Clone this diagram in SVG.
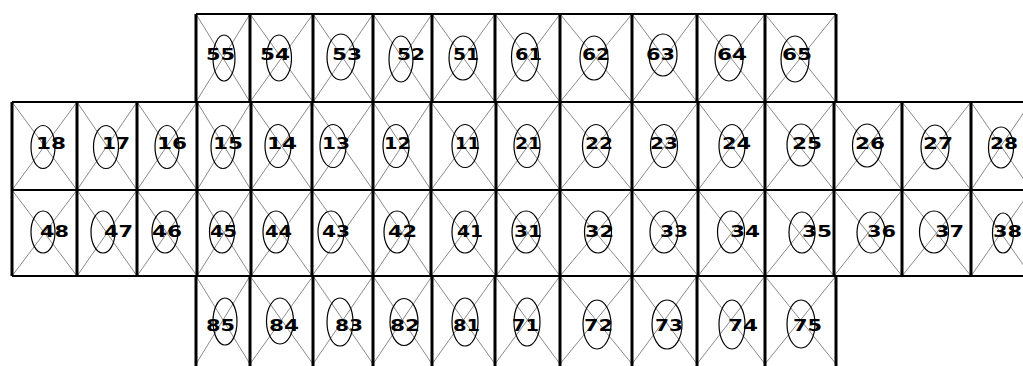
<svg xmlns="http://www.w3.org/2000/svg" width="1023" height="366" viewBox="0 0 1023 366">
<style>
.v{stroke:#000;stroke-width:3;fill:none}
.h{stroke:#000;stroke-width:2;fill:none}
.d{stroke:#8a8a8a;stroke-width:1;fill:none}
.e{stroke:#000;stroke-width:1.2;fill:none}
.t{font-family:"DejaVu Sans","Liberation Sans",sans-serif;font-weight:bold;font-size:16px;fill:#000}
</style>
<rect width="1023" height="366" fill="#fff"/>
<g id="diagonals">
<path class="d" d="M196,14L250,102M250,14L196,102M250,14L313,102M313,14L250,102M313,14L373,102M373,14L313,102M373,14L432,102M432,14L373,102M432,14L495,102M495,14L432,102M495,14L560,102M560,14L495,102M560,14L632,102M632,14L560,102M632,14L697,102M697,14L632,102M697,14L765,102M765,14L697,102M765,14L836,102M836,14L765,102"/>
<path class="d" d="M12,102L77,190M77,102L12,190M77,102L137,190M137,102L77,190M137,102L197,190M197,102L137,190M197,102L251,190M251,102L197,190M251,102L312,190M312,102L251,190M312,102L373,190M373,102L312,190M373,102L431,190M431,102L373,190M431,102L496,190M496,102L431,190M496,102L560,190M560,102L496,190M560,102L632,190M632,102L560,190M632,102L698,190M698,102L632,190M698,102L765,190M765,102L698,190M765,102L834,190M834,102L765,190M834,102L902,190M902,102L834,190M902,102L971,190M971,102L902,190M971,102L1031,190M1031,102L971,190"/>
<path class="d" d="M12,190L77,276M77,190L12,276M77,190L137,276M137,190L77,276M137,190L197,276M197,190L137,276M197,190L251,276M251,190L197,276M251,190L312,276M312,190L251,276M312,190L373,276M373,190L312,276M373,190L431,276M431,190L373,276M431,190L496,276M496,190L431,276M496,190L560,276M560,190L496,276M560,190L632,276M632,190L560,276M632,190L698,276M698,190L632,276M698,190L765,276M765,190L698,276M765,190L834,276M834,190L765,276M834,190L902,276M902,190L834,276M902,190L971,276M971,190L902,276M971,190L1031,276M1031,190L971,276"/>
<path class="d" d="M196,276L250,364M250,276L196,364M250,276L313,364M313,276L250,364M313,276L373,364M373,276L313,364M373,276L432,364M432,276L373,364M432,276L495,364M495,276L432,364M495,276L560,364M560,276L495,364M560,276L632,364M632,276L560,364M632,276L697,364M697,276L632,364M697,276L765,364M765,276L697,364M765,276L836,364M836,276L765,364"/>
</g>
<g id="grid">
<path class="h" d="M196,14H836M12,102H1023M12,190H1023M12,276H1023"/>
<path class="v" d="M196,14V102M250,14V102M313,14V102M373,14V102M432,14V102M495,14V102M560,14V102M632,14V102M697,14V102M765,14V102M836,14V102"/>
<path class="v" d="M12,102V276M77,102V276M137,102V276M197,102V276M251,102V276M312,102V276M373,102V276M431,102V276M496,102V276M560,102V276M632,102V276M698,102V276M765,102V276M834,102V276M902,102V276M971,102V276"/>
<path class="v" d="M196,276V366M250,276V366M313,276V366M373,276V366M432,276V366M495,276V366M560,276V366M632,276V366M697,276V366M765,276V366M836,276V366"/>
</g>
<g id="connectors"></g>
<g id="t55"><ellipse class="e" cx="224" cy="58" rx="11" ry="23"/><text class="t" x="206" y="60" textLength="29" lengthAdjust="spacingAndGlyphs">55</text></g>
<g id="t54"><ellipse class="e" cx="279" cy="58" rx="12.5" ry="23"/><text class="t" x="260" y="60" textLength="30" lengthAdjust="spacingAndGlyphs">54</text></g>
<g id="t53"><ellipse class="e" cx="341" cy="57" rx="14" ry="23"/><text class="t" x="332" y="60" textLength="30" lengthAdjust="spacingAndGlyphs">53</text></g>
<g id="t52"><ellipse class="e" cx="401" cy="59" rx="12" ry="23"/><text class="t" x="397" y="60" textLength="28" lengthAdjust="spacingAndGlyphs">52</text></g>
<g id="t51"><ellipse class="e" cx="463" cy="58" rx="14" ry="22"/><text class="t" x="453" y="60" textLength="26" lengthAdjust="spacingAndGlyphs">51</text></g>
<g id="t61"><ellipse class="e" cx="525" cy="57" rx="13.5" ry="24"/><text class="t" x="515" y="60" textLength="27" lengthAdjust="spacingAndGlyphs">61</text></g>
<g id="t62"><ellipse class="e" cx="594" cy="58" rx="14" ry="22"/><text class="t" x="582" y="60" textLength="28" lengthAdjust="spacingAndGlyphs">62</text></g>
<g id="t63"><ellipse class="e" cx="663" cy="55" rx="14" ry="21"/><text class="t" x="646" y="60" textLength="29" lengthAdjust="spacingAndGlyphs">63</text></g>
<g id="t64"><ellipse class="e" cx="729" cy="58" rx="14" ry="23"/><text class="t" x="717" y="60" textLength="30" lengthAdjust="spacingAndGlyphs">64</text></g>
<g id="t65"><ellipse class="e" cx="795" cy="59" rx="14" ry="23"/><text class="t" x="782" y="60" textLength="30" lengthAdjust="spacingAndGlyphs">65</text></g>
<g id="t18"><ellipse class="e" cx="43" cy="147" rx="12" ry="21.5"/><text class="t" x="36" y="149" textLength="30" lengthAdjust="spacingAndGlyphs">18</text></g>
<g id="t17"><ellipse class="e" cx="106" cy="147" rx="12.5" ry="21.5"/><text class="t" x="102" y="149" textLength="28" lengthAdjust="spacingAndGlyphs">17</text></g>
<g id="t16"><ellipse class="e" cx="167" cy="147" rx="12" ry="21.5"/><text class="t" x="157" y="149" textLength="30" lengthAdjust="spacingAndGlyphs">16</text></g>
<g id="t15"><ellipse class="e" cx="223" cy="147" rx="12" ry="21.5"/><text class="t" x="213" y="149" textLength="30" lengthAdjust="spacingAndGlyphs">15</text></g>
<g id="t14"><ellipse class="e" cx="278" cy="146" rx="13" ry="21.5"/><text class="t" x="267" y="149" textLength="30" lengthAdjust="spacingAndGlyphs">14</text></g>
<g id="t13"><ellipse class="e" cx="333" cy="146" rx="13" ry="21.5"/><text class="t" x="322" y="149" textLength="28" lengthAdjust="spacingAndGlyphs">13</text></g>
<g id="t12"><ellipse class="e" cx="396" cy="146" rx="13" ry="21.5"/><text class="t" x="384" y="149" textLength="27" lengthAdjust="spacingAndGlyphs">12</text></g>
<g id="t11"><ellipse class="e" cx="465" cy="146" rx="13" ry="21.5"/><text class="t" x="455" y="149" textLength="25" lengthAdjust="spacingAndGlyphs">11</text></g>
<g id="t21"><ellipse class="e" cx="527" cy="146" rx="13" ry="21.5"/><text class="t" x="515" y="149" textLength="26" lengthAdjust="spacingAndGlyphs">21</text></g>
<g id="t22"><ellipse class="e" cx="596" cy="146" rx="13.5" ry="21.5"/><text class="t" x="585" y="149" textLength="28" lengthAdjust="spacingAndGlyphs">22</text></g>
<g id="t23"><ellipse class="e" cx="664" cy="146" rx="13.5" ry="21.5"/><text class="t" x="650" y="149" textLength="28" lengthAdjust="spacingAndGlyphs">23</text></g>
<g id="t24"><ellipse class="e" cx="732" cy="146" rx="13" ry="21.5"/><text class="t" x="722" y="149" textLength="29" lengthAdjust="spacingAndGlyphs">24</text></g>
<g id="t25"><ellipse class="e" cx="801" cy="145" rx="14" ry="21"/><text class="t" x="792" y="149" textLength="30" lengthAdjust="spacingAndGlyphs">25</text></g>
<g id="t26"><ellipse class="e" cx="867" cy="145.5" rx="14.5" ry="21.5"/><text class="t" x="855" y="149" textLength="30" lengthAdjust="spacingAndGlyphs">26</text></g>
<g id="t27"><ellipse class="e" cx="935" cy="147" rx="14" ry="22"/><text class="t" x="923" y="149" textLength="30" lengthAdjust="spacingAndGlyphs">27</text></g>
<g id="t28"><ellipse class="e" cx="1001" cy="147.5" rx="12.5" ry="20.5"/><text class="t" x="990" y="149" textLength="28" lengthAdjust="spacingAndGlyphs">28</text></g>
<g id="t48"><ellipse class="e" cx="43" cy="232" rx="12" ry="21"/><text class="t" x="40" y="237" textLength="29" lengthAdjust="spacingAndGlyphs">48</text></g>
<g id="t47"><ellipse class="e" cx="103" cy="232" rx="12" ry="21"/><text class="t" x="104" y="237" textLength="29" lengthAdjust="spacingAndGlyphs">47</text></g>
<g id="t46"><ellipse class="e" cx="165" cy="232" rx="13" ry="21"/><text class="t" x="152" y="237" textLength="30" lengthAdjust="spacingAndGlyphs">46</text></g>
<g id="t45"><ellipse class="e" cx="222" cy="232" rx="12.5" ry="21"/><text class="t" x="210" y="237" textLength="27" lengthAdjust="spacingAndGlyphs">45</text></g>
<g id="t44"><ellipse class="e" cx="276" cy="232" rx="13" ry="21"/><text class="t" x="265" y="237" textLength="27" lengthAdjust="spacingAndGlyphs">44</text></g>
<g id="t43"><ellipse class="e" cx="331" cy="232" rx="13" ry="21"/><text class="t" x="322" y="237" textLength="28" lengthAdjust="spacingAndGlyphs">43</text></g>
<g id="t42"><ellipse class="e" cx="397" cy="232" rx="13" ry="21"/><text class="t" x="388" y="237" textLength="29" lengthAdjust="spacingAndGlyphs">42</text></g>
<g id="t41"><ellipse class="e" cx="465" cy="232" rx="13" ry="21"/><text class="t" x="457" y="237" textLength="26" lengthAdjust="spacingAndGlyphs">41</text></g>
<g id="t31"><ellipse class="e" cx="526" cy="232" rx="14" ry="21"/><text class="t" x="514" y="237" textLength="28" lengthAdjust="spacingAndGlyphs">31</text></g>
<g id="t32"><ellipse class="e" cx="598" cy="232" rx="13.5" ry="21"/><text class="t" x="585" y="237" textLength="29" lengthAdjust="spacingAndGlyphs">32</text></g>
<g id="t33"><ellipse class="e" cx="664" cy="232" rx="14" ry="21"/><text class="t" x="660" y="237" textLength="28" lengthAdjust="spacingAndGlyphs">33</text></g>
<g id="t34"><ellipse class="e" cx="731" cy="232" rx="13.5" ry="21"/><text class="t" x="730" y="237" textLength="30" lengthAdjust="spacingAndGlyphs">34</text></g>
<g id="t35"><ellipse class="e" cx="802" cy="232.5" rx="13" ry="20.5"/><text class="t" x="802" y="237" textLength="30" lengthAdjust="spacingAndGlyphs">35</text></g>
<g id="t36"><ellipse class="e" cx="871" cy="232.5" rx="14" ry="20.5"/><text class="t" x="867" y="237" textLength="29" lengthAdjust="spacingAndGlyphs">36</text></g>
<g id="t37"><ellipse class="e" cx="934" cy="232" rx="14.5" ry="21"/><text class="t" x="935" y="237" textLength="29" lengthAdjust="spacingAndGlyphs">37</text></g>
<g id="t38"><ellipse class="e" cx="1003" cy="233" rx="10.5" ry="20"/><text class="t" x="993" y="237" textLength="29" lengthAdjust="spacingAndGlyphs">38</text></g>
<g id="t85"><ellipse class="e" cx="225" cy="321.5" rx="12" ry="23.5"/><text class="t" x="206" y="331" textLength="29" lengthAdjust="spacingAndGlyphs">85</text></g>
<g id="t84"><ellipse class="e" cx="280" cy="321" rx="13.5" ry="23"/><text class="t" x="269" y="331" textLength="30" lengthAdjust="spacingAndGlyphs">84</text></g>
<g id="t83"><ellipse class="e" cx="340" cy="322" rx="13" ry="24"/><text class="t" x="335" y="331" textLength="28" lengthAdjust="spacingAndGlyphs">83</text></g>
<g id="t82"><ellipse class="e" cx="404" cy="322" rx="14" ry="23.5"/><text class="t" x="390" y="331" textLength="30" lengthAdjust="spacingAndGlyphs">82</text></g>
<g id="t81"><ellipse class="e" cx="465" cy="322" rx="13" ry="24"/><text class="t" x="453" y="331" textLength="27" lengthAdjust="spacingAndGlyphs">81</text></g>
<g id="t71"><ellipse class="e" cx="527" cy="322" rx="13" ry="24"/><text class="t" x="512" y="331" textLength="27" lengthAdjust="spacingAndGlyphs">71</text></g>
<g id="t72"><ellipse class="e" cx="597" cy="324.5" rx="14" ry="24.5"/><text class="t" x="584" y="331" textLength="29" lengthAdjust="spacingAndGlyphs">72</text></g>
<g id="t73"><ellipse class="e" cx="667" cy="324.5" rx="15" ry="24.5"/><text class="t" x="655" y="331" textLength="28" lengthAdjust="spacingAndGlyphs">73</text></g>
<g id="t74"><ellipse class="e" cx="732" cy="324.5" rx="13" ry="24.5"/><text class="t" x="728" y="331" textLength="30" lengthAdjust="spacingAndGlyphs">74</text></g>
<g id="t75"><ellipse class="e" cx="801" cy="324" rx="14" ry="24"/><text class="t" x="793" y="331" textLength="29" lengthAdjust="spacingAndGlyphs">75</text></g>
</svg>
